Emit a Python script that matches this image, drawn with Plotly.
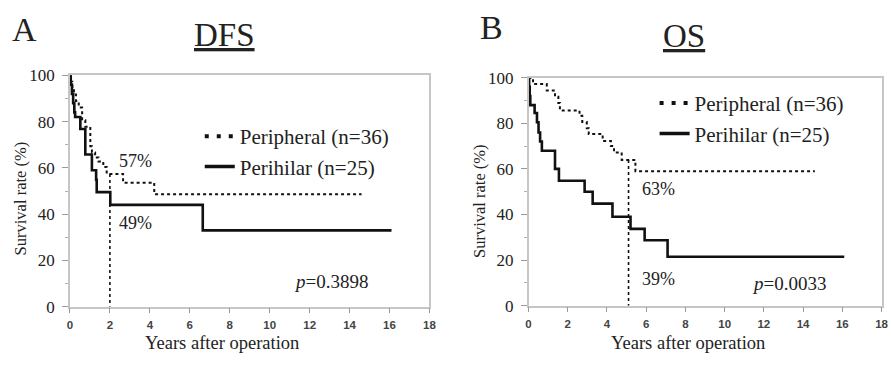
import plotly.graph_objects as go

# ---------------- data ----------------
# Panel A: disease-free survival (DFS)
A_peri_t = [0, 0.05, 0.12, 0.2, 0.3, 0.44, 0.61, 0.77, 1.02, 1.1, 1.26, 1.43, 1.67, 1.84, 2.66, 4.22, 14.6]
A_peri_s = [100, 97.2, 94.4, 91.7, 88.9, 86.1, 80.6, 77.8, 69.4, 66.7, 64.5, 62.8, 60.4, 57.4, 53.6, 48.6, 48.6]
A_hil_t = [0, 0.04, 0.1, 0.16, 0.22, 0.26, 0.52, 0.77, 1.1, 1.31, 1.34, 2.02, 6.65, 16.1]
A_hil_s = [100, 96, 92, 88, 84, 82, 76.8, 65.8, 59, 54.9, 49.5, 44, 33, 33]

# Panel B: overall survival (OS)
B_peri_t = [0, 0.23, 0.93, 1.35, 1.52, 1.6, 2.6, 2.74, 2.97, 3.07, 3.78, 4.2, 4.36, 4.75, 5.45, 14.6]
B_peri_s = [100, 97.2, 94.4, 91.7, 88.9, 85.6, 83.3, 80.6, 77.8, 75.3, 72.2, 70.0, 67.2, 63.9, 59.0, 59.0]
B_hil_t = [0, 0.03, 0.06, 0.09, 0.31, 0.43, 0.51, 0.59, 0.68, 1.35, 1.55, 2.86, 3.27, 4.28, 5.2, 5.92, 7.09, 16.1]
B_hil_s = [100, 96, 92, 88, 84.5, 80.5, 76, 72, 68, 60, 54.8, 50, 44.8, 39, 33.7, 28.7, 21.5, 21.5]

# landmark (time, value of peripheral curve used as top of the drop line)
A_landmark_t = 2
A_landmark_top = 57.4
B_landmark_t = 5.1
B_landmark_top = 63.9

A_labels = ["57%", "49%"]
B_labels = ["63%", "39%"]
A_p = "0.3898"
B_p = "0.0033"
series_names = ["Peripheral (n=36)", "Perihilar (n=25)"]
panel_letters = ["A", "B"]
panel_titles = ["DFS", "OS"]
x_ticks = list(range(0, 19, 2))
y_ticks = list(range(0, 101, 20))

# ---------------- layout helpers ----------------
W, H = 891, 365
SERIF = "Liberation Serif"
SANS = "Liberation Sans"
INK = "#111111"
TXT = "#222222"


def fx(p):
    return p / W


def fy(p):
    return 1 - p / H


fig = go.Figure()

panels = [
    ("x", "y", "legend", A_peri_t, A_peri_s, A_hil_t, A_hil_s, A_landmark_t, A_landmark_top),
    ("x2", "y2", "legend2", B_peri_t, B_peri_s, B_hil_t, B_hil_s, B_landmark_t, B_landmark_top),
]

for xa, ya, lg, pt, ps, ht, hs, lt, ltop in panels:
    fig.add_trace(go.Scatter(x=pt, y=ps, mode="lines", xaxis=xa, yaxis=ya, showlegend=False,
                             line=dict(shape="hv", dash="dot", width=2, color=INK), hoverinfo="skip"))
    fig.add_trace(go.Scatter(x=ht, y=hs, mode="lines", xaxis=xa, yaxis=ya, showlegend=False,
                             line=dict(shape="hv", width=2.6, color=INK), hoverinfo="skip"))
    fig.add_trace(go.Scatter(x=[lt, lt], y=[ltop, 0], mode="lines", xaxis=xa, yaxis=ya, showlegend=False,
                             line=dict(dash="dot", width=1.6, color=INK), hoverinfo="skip"))
    # legend samples
    fig.add_trace(go.Scatter(x=[None], y=[None], mode="lines", xaxis=xa, yaxis=ya, legend=lg,
                             name=series_names[0],
                             line=dict(dash="4px,8px", width=4, color=INK)))
    fig.add_trace(go.Scatter(x=[None], y=[None], mode="lines", xaxis=xa, yaxis=ya, legend=lg,
                             name=series_names[1],
                             line=dict(width=3.5, color=INK)))

axis_common = dict(showline=True, mirror=True, linecolor="#c6c6c6", linewidth=1.5,
                   showgrid=False, zeroline=False, ticks="outside", tickcolor="#9a9a9a")

xcommon = dict(axis_common, range=[0, 18], tickvals=x_ticks, ticklen=5,
               tickfont=dict(family=SANS, size=11.5, color="#444444", weight="bold"),
               ticklabelstandoff=2, ticklabeloverflow="allow")
ycommon = dict(axis_common, range=[0, 100], tickvals=y_ticks, ticklen=6,
               minor=dict(dtick=10, ticks="outside", ticklen=3, tickcolor="#b0b0b0"),
               tickfont=dict(family=SERIF, size=17, color=TXT),
               ticklabelstandoff=4)

fig.update_layout(
    width=W, height=H,
    margin=dict(l=0, r=0, t=0, b=0),
    paper_bgcolor="white", plot_bgcolor="white",
    xaxis=dict(xcommon, domain=[fx(67.7), fx(431.3)], anchor="y"),
    yaxis=dict(ycommon, domain=[fy(314), fy(70)], anchor="x"),
    xaxis2=dict(xcommon, domain=[fx(531.5), fx(888.5)], anchor="y2"),
    yaxis2=dict(ycommon, domain=[fy(313), fy(72.5)], anchor="x2"),
    legend=dict(x=fx(199), y=fy(113), xanchor="left", yanchor="top",
                bgcolor="rgba(0,0,0,0)", font=dict(family=SERIF, size=21, color=TXT),
                tracegroupgap=0, itemwidth=30),
    legend2=dict(x=fx(659), y=fy(78), xanchor="left", yanchor="top",
                 bgcolor="rgba(0,0,0,0)", font=dict(family=SERIF, size=21, color=TXT),
                 tracegroupgap=0, itemwidth=30),
)

ann = []
# panel letters and titles
for letter, title, lx, ly, tx, ty in [
    (panel_letters[0], panel_titles[0], 22, 22, 224, 27),
    (panel_letters[1], panel_titles[1], 494, 20, 689, 28),
]:
    ann.append(dict(text=letter, x=fx(lx), y=fy(ly), xref="paper", yref="paper",
                    showarrow=False, xanchor="center", yanchor="middle",
                    font=dict(family=SERIF, size=34, color=TXT)))
    ann.append(dict(text=title, x=fx(tx), y=fy(ty), xref="paper", yref="paper",
                    showarrow=False, xanchor="center", yanchor="middle",
                    font=dict(family=SERIF, size=33, color=TXT, lineposition="under")))

# axis titles
for yx, yy, xx in [(18, 200, 221.5), (482, 203, 692.5)]:
    ann.append(dict(text="Survival rate (%)", x=fx(yx), y=fy(yy), xref="paper", yref="paper",
                    showarrow=False, textangle=-90, xanchor="center", yanchor="middle",
                    font=dict(family=SERIF, size=16.5, color=TXT)))
    ann.append(dict(text="Years after operation", x=fx(xx), y=fy(352), xref="paper", yref="paper",
                    showarrow=False, xanchor="center", yanchor="middle",
                    font=dict(family=SERIF, size=18.5, color=TXT)))

# in-plot labels (data coordinates)
lab_font = dict(family=SERIF, size=18, color=TXT)
ann += [
    dict(text=A_labels[0], x=3.3, y=63, xref="x", yref="y", showarrow=False, font=lab_font),
    dict(text=A_labels[1], x=3.3, y=36, xref="x", yref="y", showarrow=False, font=lab_font),
    dict(text="<i>p</i>=" + A_p, x=13.07, y=11, xref="x", yref="y", showarrow=False,
         font=dict(family=SERIF, size=19, color=TXT)),
    dict(text=B_labels[0], x=6.63, y=51, xref="x2", yref="y2", showarrow=False, font=lab_font),
    dict(text=B_labels[1], x=6.63, y=11.7, xref="x2", yref="y2", showarrow=False, font=lab_font),
    dict(text="<i>p</i>=" + B_p, x=13.3, y=9.6, xref="x2", yref="y2", showarrow=False,
         font=dict(family=SERIF, size=19, color=TXT)),
]
fig.update_layout(annotations=ann)

fig.write_html("out.html", config={"displayModeBar": False},
               post_script="document.body.style.margin='0';document.body.style.padding='0';")
